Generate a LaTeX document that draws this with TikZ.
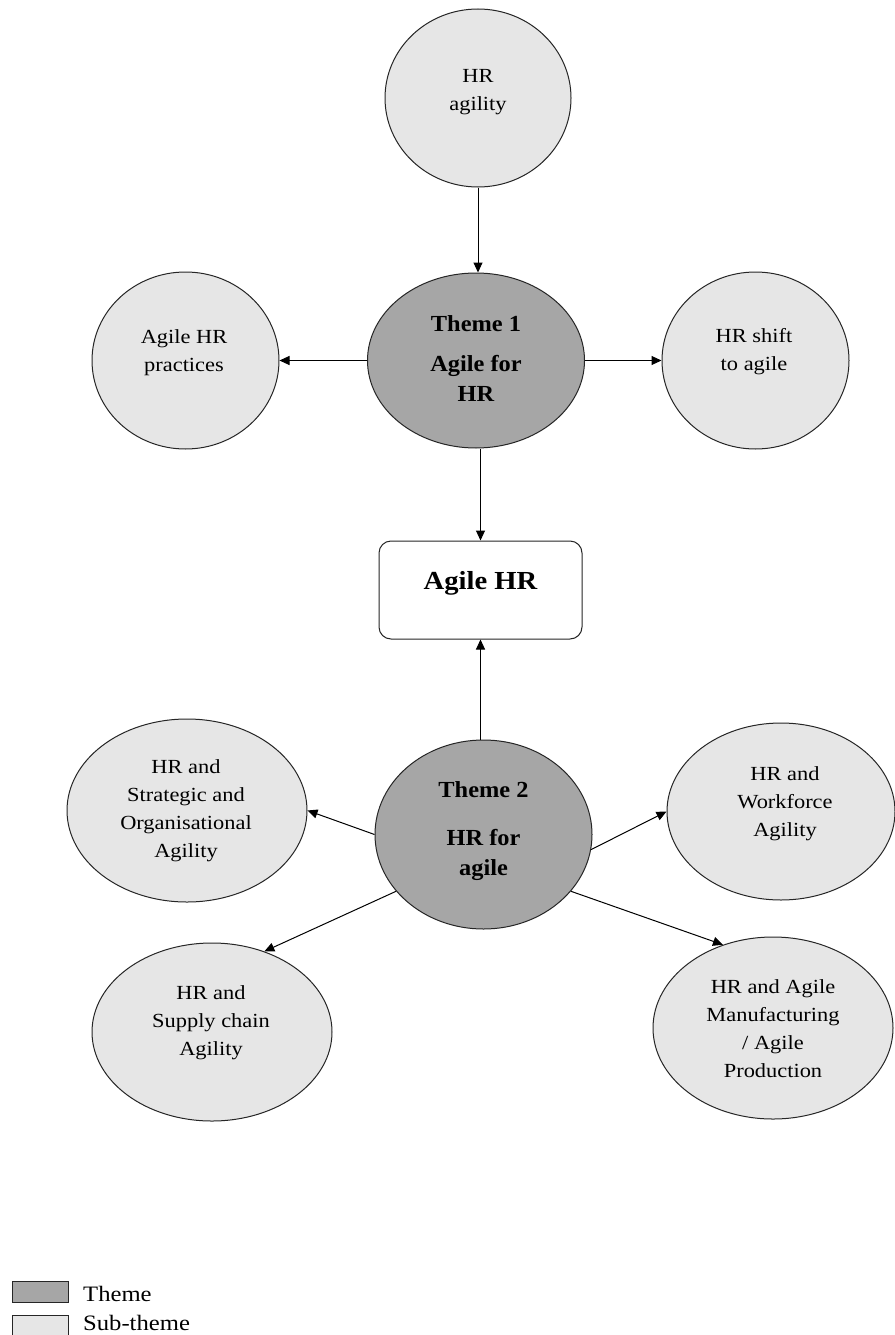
\documentclass[tikz,border=0pt]{standalone}
\usepackage{fontspec}
\setmainfont{Liberation Serif}
\newfontfamily\regf{Liberation Serif}[FakeStretch=1.12]
\newfontfamily\thmf{Liberation Serif}[FakeStretch=1.06]
\newfontfamily\boxf{Liberation Serif}[FakeStretch=1.1]
\usetikzlibrary{shapes.geometric,arrows.meta}
\definecolor{themegray}{HTML}{A6A6A6}
\definecolor{subgray}{HTML}{E6E6E6}
\definecolor{edgecol}{HTML}{262626}
\begin{document}
\begin{tikzpicture}[x=1pt,y=-1pt,
  sub/.style={ellipse, draw=edgecol, line width=1pt, fill=subgray, inner sep=0pt},
  thm/.style={ellipse, draw=edgecol, line width=1pt, fill=themegray, inner sep=0pt},
  lbl/.style={align=center, inner sep=0pt, font=\regf\fontsize{20}{28}\selectfont},
  thl/.style={anchor=base, inner sep=0pt, font=\thmf\bfseries\fontsize{23}{30}\selectfont},
  arr/.style={-{Triangle[length=10pt,width=9pt]}, line width=1pt, draw=black},
  lgbox/.style={draw=edgecol, line width=1pt, minimum width=56pt, minimum height=21pt, inner sep=0pt, anchor=north west},
  lgtext/.style={anchor=base west, inner sep=0pt, font=\regf\fontsize{22}{26}\selectfont}
]
\useasboundingbox (0,0) rectangle (894,1335);
\fill[white] (0,0) rectangle (894,1335);

% Theme 1 group
\node[sub, minimum width=186pt, minimum height=178pt] (hra) at (478,98) {};
\node[lbl] (hrat) at (478,92) {HR\\agility};
\node[thm, minimum width=217pt, minimum height=175pt] (t1) at (476,360.5) {};
\node[thl] (t1a) at (476,331) {Theme 1};
\node[thl] (t1b) at (476,371) {Agile for};
\node[thl] (t1c) at (476,401) {HR};
\node[sub, minimum width=187pt, minimum height=177pt] (prac) at (185.5,360.5) {};
\node[lbl] (pract) at (184,353) {Agile HR\\practices};
\node[sub, minimum width=187pt, minimum height=177pt] (shift) at (755.5,360.5) {};
\node[lbl] (shiftt) at (754,352) {HR shift\\to agile};

% Central box
\node[draw=edgecol, line width=1pt, rounded corners=12pt, fill=white, minimum width=203pt, minimum height=98pt, inner sep=0pt] (ahr) at (480.5,590) {};
\node[inner sep=0pt, font=\boxf\bfseries\fontsize{26}{30}\selectfont] (ahrt) at (480.5,583) {Agile HR};

% Theme 2 group
\node[thm, minimum width=217pt, minimum height=189pt] (t2) at (483.5,834.5) {};
\node[thl] (t2a) at (483.5,797.5) {Theme 2};
\node[thl] (t2b) at (483.5,845.5) {HR for};
\node[thl] (t2c) at (483.5,875.5) {agile};
\node[sub, minimum width=240pt, minimum height=183pt] (strat) at (187,810.5) {};
\node[lbl] (stratt) at (186,811) {HR and\\Strategic and\\Organisational\\Agility};
\node[sub, minimum width=240pt, minimum height=178pt] (supply) at (212,1032) {};
\node[lbl] (supplyt) at (211,1023) {HR and\\Supply chain\\Agility};
\node[sub, minimum width=228pt, minimum height=177pt] (work) at (781,811.5) {};
\node[lbl] (workt) at (785,803.5) {HR and\\Workforce\\Agility};
\node[sub, minimum width=240pt, minimum height=182pt] (manuf) at (773,1028) {};
\node[lbl] (manuft) at (773,1028.5) {HR and Agile\\Manufacturing\\/ Agile\\Production};

% Connectors
\draw[arr] (hra.south) -- (hra.south |- t1.north);
\draw[arr] (t1.west) -- (prac.east);
\draw[arr] (t1.east) -- (shift.west);
\draw[arr] (ahr.north |- t1.south) -- (ahr.north);
\draw[arr] (ahr.south |- t2.north) -- (ahr.south);
\draw[arr] (t2.west) -- (strat.east);
\draw[arr] (t2.213) -- (supply.57);
\draw[arr] (t2.352) -- (work.180);
\draw[arr] (t2.327) -- (manuf.121);

% Legend
\node[lgbox, fill=themegray] (lgt) at (12,1281) {};
\node[lgtext] (lgtt) at (83,1301) {Theme};
\node[lgbox, fill=subgray] (lgs) at (12,1315) {};
\node[lgtext] (lgst) at (83,1330) {Sub-theme};
\end{tikzpicture}
\end{document}
